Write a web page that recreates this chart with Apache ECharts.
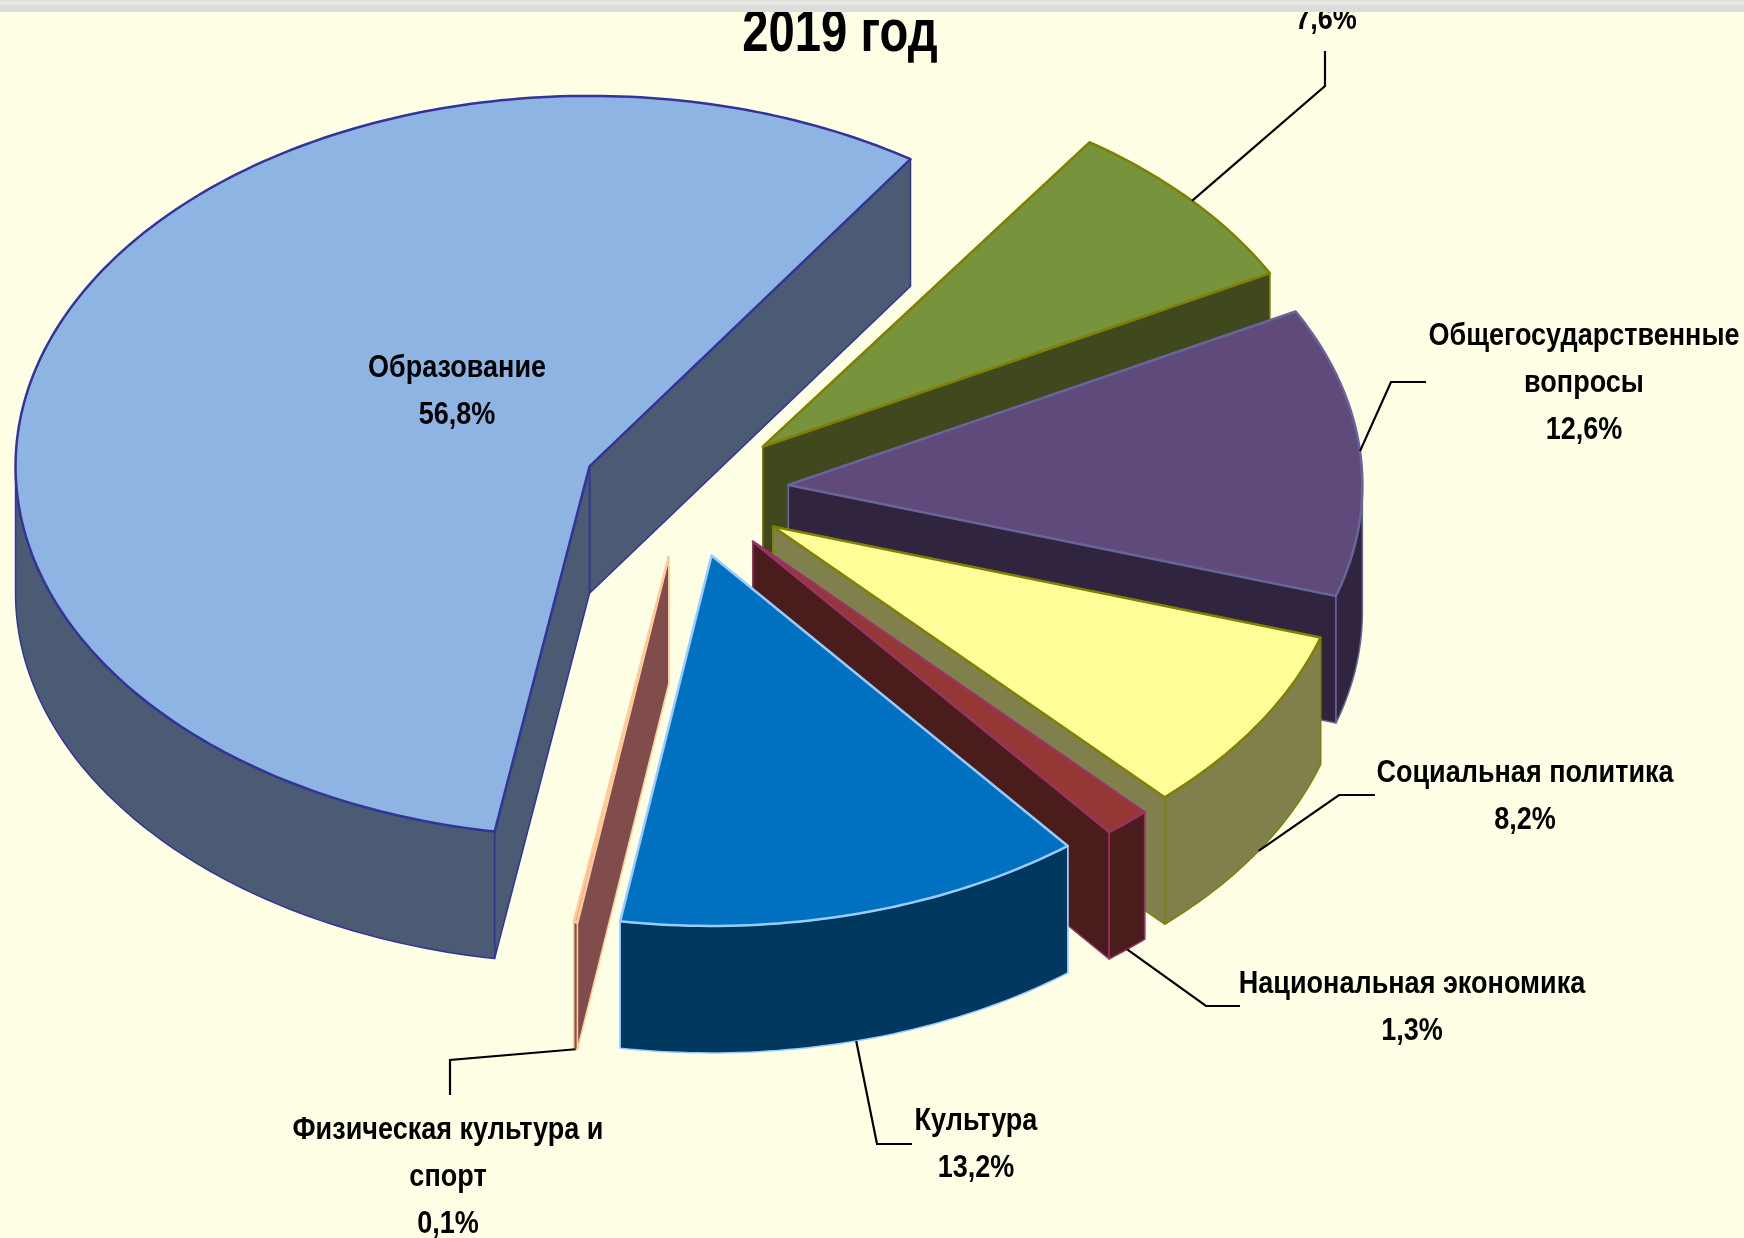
<!DOCTYPE html>
<html><head><meta charset="utf-8">
<style>html,body{margin:0;padding:0;background:#FFFFE5}#c{width:1744px;height:1238px}</style>
<script src="https://cdn.jsdelivr.net/npm/echarts@6/dist/echarts.min.js"></script>
</head><body><div id="c"></div>
<script>
// Data, in the pie's own order (counter-clockwise from the start angle)
const categories = ['Образование','Физическая культура и\nспорт','Культура','Национальная экономика','Социальная политика','Общегосударственные\nвопросы',''];
const values = [56.8,0.1,13.2,1.3,8.2,12.6,7.6];
const valueLabels = ['56,8%','0,1%','13,2%','1,3%','8,2%','12,6%','7,6%'];
const titleText = '2019 год';

// Styles
const topColors  = ['#8EB4E3','#FF9999','#0070C0','#953735','#FFFF99','#604A7B','#77933C'];
const sideColors = ['#4A5B73','#804C4C','#003860','#4A1C1C','#80804D','#30243F','#3F491D'];
const edgeColors = ['#333399','#FFCC99','#99CCFF','#993366','#808000','#666699','#808000'];
const drawOrder = [6,5,4,3,2,1,0];

// 3D pie projection
const P = {cx:685.5, cy:491, rx:574, ry:370.4, depth:127, explode:0.18, startDeg:56};
// Label layout: text centre, first line centre, leader elbow and leader end
const labelLayout = [
  {x:457,  y:368,  leader:null},
  {x:448,  y:1130, leader:[[450,1060],[450,1095]]},
  {x:976,  y:1121, leader:[[877,1144],[912,1144]]},
  {x:1412, y:984,  leader:[[1206,1006],[1240,1006]]},
  {x:1525, y:773,  leader:[[1339,795],[1375,795]]},
  {x:1584, y:336,  leader:[[1391,382],[1426,382]]},
  {x:1326, y:20,   leader:[[1325,86],[1325,51]]}
];
const FONT = '"Liberation Sans",Arial,sans-serif';
const NARROW = 0.845;

const geom = [];
let acc = P.startDeg;
values.forEach(v=>{
  const sweep = v*3.6, a0 = acc, a1 = acc+sweep, mid = (a0+a1)/2*Math.PI/180;
  geom.push({a0,a1,mid,ax:P.cx+P.explode*P.rx*Math.cos(mid),ay:P.cy-P.explode*P.ry*Math.sin(mid)});
  acc = a1;
});
function rim(g,deg,dz){const t=deg*Math.PI/180;return [g.ax+P.rx*Math.cos(t),g.ay-P.ry*Math.sin(t)+(dz||0)];}
function arcPts(g,a,b,dz){const n=Math.max(1,Math.ceil(Math.abs(b-a)));const r=[];for(let i=0;i<=n;i++)r.push(rim(g,a+(b-a)*i/n,dz));return r;}
function poly(points,fill,stroke,w){return {type:'polygon',shape:{points},style:{fill,stroke,lineWidth:w,lineJoin:'round'}};}

function renderSlice(params,api){
  const i = api.value(1), g = geom[i], d = P.depth;
  const fill = topColors[i], side = sideColors[i], edge = edgeColors[i];
  const children = [];
  const face = a => { const r=rim(g,a); return poly([[g.ax,g.ay],r,[r[0],r[1]+d],[g.ax,g.ay+d]],side,edge,1.5); };
  // hidden-side face first, then the nearer one
  const s0 = Math.sin(g.a0*Math.PI/180), s1 = Math.sin(g.a1*Math.PI/180);
  if (s0 < s1) { children.push(face(g.a1), face(g.a0)); } else { children.push(face(g.a0), face(g.a1)); }
  // outer wall: only the arc on the front half of the ellipse
  for (let k=-1;k<=1;k++){
    const lo=Math.max(g.a0,180+360*k), hi=Math.min(g.a1,360+360*k);
    if(hi>lo){ children.push(poly(arcPts(g,lo,hi,0).concat(arcPts(g,hi,lo,d)),side,edge,1.5)); }
  }
  children.push(poly([[g.ax,g.ay]].concat(arcPts(g,g.a0,g.a1,0)),fill,edge,2.5));
  return {type:'group',children};
}
function renderLabel(params,api){
  const i = api.value(1), g = geom[i], L = labelLayout[i], children = [];
  if (L.leader){
    const midDeg=(g.a0+g.a1)/2, front=Math.sin(g.mid)<0;
    const a=rim(g,midDeg,front?P.depth:0);
    children.push({type:'polyline',shape:{points:[a].concat(L.leader)},style:{stroke:'#000',lineWidth:2.2,fill:null}});
  }
  const name = categories[i];
  const lines = (name?name.split('\n'):[]).concat([valueLabels[i]]);
  lines.forEach((t,k)=>children.push({type:'text',x:L.x,y:L.y+k*47,scaleX:NARROW,style:{text:t,x:0,y:0,align:'center',verticalAlign:'middle',
    font:'bold 32px '+FONT,fill:'#000'}}));
  return {type:'group',children};
}
const seriesData = drawOrder.map(i=>({name:categories[i]||valueLabels[i],value:[values[i],i]}));

const chart = echarts.init(document.getElementById('c'),null,{renderer:'canvas',width:1744,height:1238});
chart.setOption({
  animation:false,
  backgroundColor:'#FFFFE5',
  graphic:[
    {type:'text',z:1,x:840,y:35,scaleX:0.8,style:{text:titleText,x:0,y:0,align:'center',verticalAlign:'middle',
      font:'bold 59px '+FONT,fill:'#000'}},
    {type:'rect',z:100,shape:{x:0,y:0,width:1744,height:12},style:{fill:'#DCDCDC'}},
    {type:'rect',z:101,shape:{x:0,y:1,width:1744,height:4},style:{fill:'#E7EADF'}}
  ],
  series:[
    {type:'custom',coordinateSystem:'none',z:2,silent:true,renderItem:renderSlice,clip:false,encode:{value:0},data:seriesData},
    {type:'custom',coordinateSystem:'none',z:3,silent:true,renderItem:renderLabel,clip:false,encode:{value:0},data:seriesData}
  ]
});
</script></body></html>
